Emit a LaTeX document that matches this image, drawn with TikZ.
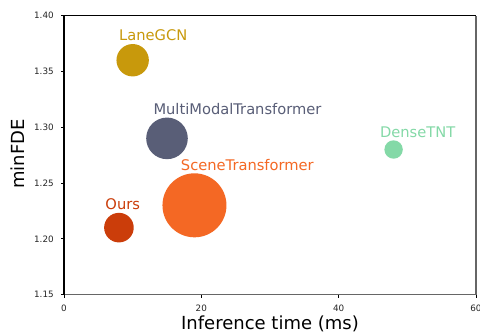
\documentclass[tikz,border=0pt]{standalone}
\usepackage{fontspec}
\setmainfont{DejaVu Sans}
\usetikzlibrary{positioning}
\definecolor{lanegcn}{HTML}{C8990C}
\definecolor{mmtrans}{HTML}{595E77}
\definecolor{scenetr}{HTML}{F46824}
\definecolor{ours}{HTML}{CB3D0A}
\definecolor{densetnt}{HTML}{84D9A7}
\definecolor{spinegray}{HTML}{666666}

\begin{document}
\begin{tikzpicture}[x=0.75pt,y=-0.75pt,
	ticklab/.style={font=\fontsize{6.6}{8}\selectfont,inner sep=0pt,text=black!85},
	axlab/.style={font=\fontsize{13.5}{16}\selectfont,inner sep=0pt},
	dot/.style={circle,fill=#1,draw=none,inner sep=0pt},
	dotlab/.style={anchor=base west,inner sep=0pt,text=#1,font=\fontsize{11}{13}\selectfont}]
\useasboundingbox (0,0) rectangle (480,335);
\fill[white] (0,0) rectangle (480,335);

\begin{scope}[shift={(64,1578)},x=5.15pt,y=837pt]
% frame
\draw[spinegray,line width=1.1pt] (0,1.15) -- (60,1.15);
\draw[spinegray,line width=0.8pt] (60,1.15) -- (60,1.40);
\draw[black,line width=0.8pt] (0,1.15) -- (0,1.40) -- (60,1.40);
% ticks
\foreach \t in {0,20,40,60} {
	\draw[line width=0.6pt] (\t,1.15) -- ++(0pt,-2.6pt);
	\node[ticklab,anchor=base] (xt\t) at ([yshift=-12.8pt]\t,1.15) {\t};
}
\foreach \v in {1.15,1.20,1.25,1.30,1.35,1.40} {
	\draw[line width=0.6pt] (0,\v) -- ++(-2.6pt,0pt);
	\node[ticklab,anchor=east] (yt\v) at ([xshift=-7.5pt]0,\v) {\v};
}
% models
\node[dot=lanegcn,minimum size=24.3pt] (lanegcn) at (10,1.36) {};
\node[dot=mmtrans,minimum size=31.2pt] (mmtrans) at (15,1.29) {};
\node[dot=scenetr,minimum size=48pt] (scenetr) at (19,1.23) {};
\node[dot=ours,minimum size=22.2pt] (ours) at (8,1.21) {};
\node[dot=densetnt,minimum size=13.8pt] (densetnt) at (48,1.28) {};

\node[dotlab=lanegcn] (lanegcn-lab) at ([xshift=-10.3pt,yshift=2.2pt]lanegcn.north) {LaneGCN};
\node[dotlab=mmtrans] (mmtrans-lab) at ([xshift=-10.3pt,yshift=2.2pt]mmtrans.north) {MultiModalTransformer};
\node[dotlab=scenetr] (scenetr-lab) at ([xshift=-10.3pt,yshift=2.2pt]scenetr.north) {SceneTransformer};
\node[dotlab=ours] (ours-lab) at ([xshift=-10.3pt,yshift=2.2pt]ours.north) {Ours};
\node[dotlab=densetnt] (densetnt-lab) at ([xshift=-10.3pt,yshift=2.2pt]densetnt.north) {DenseTNT};
\end{scope}

% axis labels
\node[axlab,anchor=base] (xlab) at (270,330) {Inference time (ms)};
\node[axlab,rotate=90,anchor=base] (ylab) at (25,154) {minFDE};
\end{tikzpicture}
\end{document}
